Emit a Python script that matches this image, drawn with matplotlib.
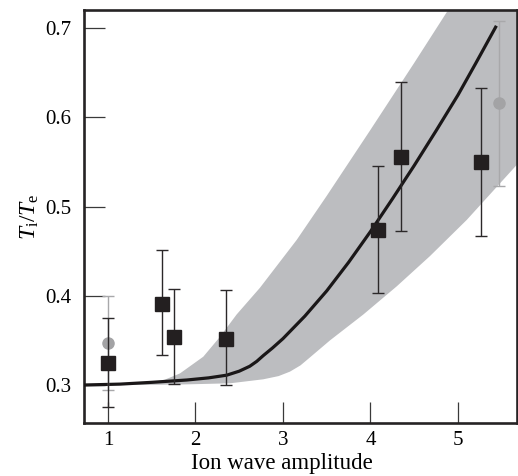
import matplotlib
matplotlib.use("Agg")
import matplotlib.pyplot as plt
import numpy as np

plt.rcParams['font.family'] = ['Liberation Serif', 'DejaVu Serif']
plt.rcParams['mathtext.fontset'] = 'custom'
plt.rcParams['mathtext.rm'] = 'Liberation Serif'
plt.rcParams['mathtext.it'] = 'Liberation Serif:italic'

# measured points (black squares) with error bar ends
sq_x = [1.0, 1.617, 1.754, 2.349, 4.086, 4.352, 5.267]
sq_y = [0.325, 0.391, 0.354, 0.352, 0.474, 0.555, 0.5495]
sq_hi = [0.375, 0.451, 0.4076, 0.4068, 0.545, 0.640, 0.6328]
sq_lo = [0.2757, 0.3336, 0.3015, 0.3003, 0.4034, 0.473, 0.4673]

# grey circles
ci_x = [1.0, 5.469]
ci_y = [0.3474, 0.6155]
ci_hi = [0.3997, 0.7075]
ci_lo = [0.2944, 0.5233]

# model curve
curve_x = [0.726, 1.137, 1.5, 1.90, 2.15, 2.356, 2.5, 2.62, 2.7, 2.775, 2.88, 3.0, 3.25,
           3.5, 3.75, 4.0, 4.25, 4.5, 4.75, 5.0, 5.2, 5.43]
curve_y = [0.300, 0.301, 0.303, 0.3056, 0.308, 0.311, 0.3155, 0.321, 0.3265, 0.333,
           0.3415, 0.352, 0.3772, 0.4055, 0.4375, 0.472, 0.5085, 0.546, 0.585, 0.625,
           0.660, 0.701]

# uncertainty band edges
band_up_x = [1.25, 1.5, 1.65, 1.823, 2.089, 2.28, 2.47, 2.737, 3.156, 3.5, 4.0, 4.5,
             4.886, 5.3, 5.75]
band_up_y = [0.3005, 0.303, 0.306, 0.313, 0.3317, 0.354, 0.379, 0.409, 0.4625, 0.512,
             0.586, 0.661, 0.720, 0.780, 0.850]
band_lo_x = [1.25, 1.8, 2.394, 2.775, 2.95, 3.08, 3.2, 3.309, 3.537, 3.918, 4.299, 4.68,
             5.10, 5.67, 5.75]
band_lo_y = [0.300, 0.3005, 0.3019, 0.3064, 0.310, 0.315, 0.322, 0.331, 0.350, 0.379,
             0.4105, 0.4445, 0.485, 0.5465, 0.555]

xticks = [1, 2, 3, 4, 5]
yticks = [0.3, 0.4, 0.5, 0.6, 0.7]

fig = plt.figure(figsize=(5.18, 4.76), dpi=100)
ax = fig.add_axes([0.1622, 0.1113, 0.8358, 0.8676])

# band
poly_x = np.concatenate([band_up_x, band_lo_x[::-1]])
poly_y = np.concatenate([band_up_y, band_lo_y[::-1]])
ax.fill(poly_x, poly_y, color='#bcbdc0', lw=0, zorder=1)

ax.plot(curve_x, curve_y, color='#1a1718', lw=2.3, zorder=3, solid_joinstyle='round')

ci_y = np.array(ci_y)
ax.errorbar(ci_x, ci_y, yerr=[ci_y - np.array(ci_lo), np.array(ci_hi) - ci_y],
            fmt='o', ms=8, color='#a3a3a5', ecolor='#a8a8aa', elinewidth=1.0,
            capsize=4, capthick=1.0, zorder=4)

sq_y = np.array(sq_y)
ax.errorbar(sq_x, sq_y, yerr=[sq_y - np.array(sq_lo), np.array(sq_hi) - sq_y],
            fmt='s', ms=10, color='#231f20', ecolor='#2b2829', elinewidth=1.0,
            capsize=4, capthick=1.0, zorder=5)

ax.set_xlim(0.726, 5.674)
ax.set_ylim(0.2574, 0.7202)
ax.set_xticks(xticks)
ax.set_xticklabels([str(t) for t in xticks])
ax.set_yticks(yticks)
ax.set_yticklabels(['%.1f' % t for t in yticks])

ax.tick_params(axis='both', direction='in', length=15, width=0.9, color='#3a3a3a',
               labelsize=15, top=False, right=False)
ax.tick_params(axis='y', pad=9)
ax.tick_params(axis='x', pad=6)
for s in ax.spines.values():
    s.set_linewidth(1.9)
    s.set_color('#262324')

ax.set_xlabel('Ion wave amplitude', fontsize=16.5)
ax.xaxis.set_label_coords(0.458, -0.072)
ax.set_ylabel(r'$T_{\mathrm{i}}/T_{\mathrm{e}}$', fontsize=17)
ax.yaxis.set_label_coords(-0.10, 0.5)

fig.savefig('out.png', dpi=100)
